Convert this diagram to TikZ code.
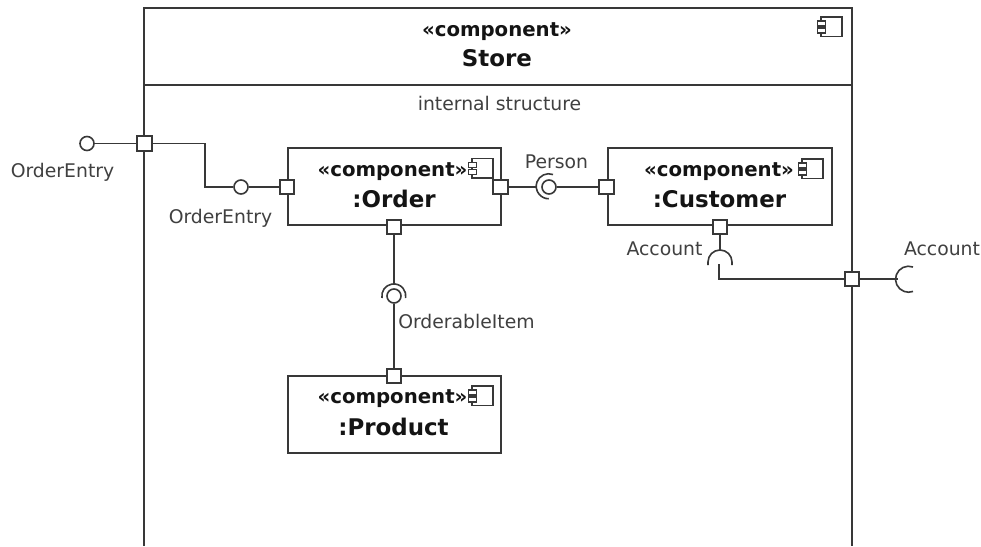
\documentclass[tikz,border=0pt]{standalone}
\usepackage{fontspec}
\setmainfont{DejaVu Sans}
\definecolor{ink}{gray}{0.22}
\definecolor{txt}{gray}{0.25}
\definecolor{boldtxt}{gray}{0.08}
\tikzset{
  x=0.75pt,y=-0.75pt,
  line/.style={draw=ink,line width=1.4pt,line join=miter},
  thin line/.style={draw=ink,line width=1.2pt},
  compbox/.style={draw=ink,line width=1.4pt,fill=white,minimum width=159.75pt,minimum height=57.75pt,inner sep=0pt},
  widebox/.style={compbox,minimum width=168pt},
  portbox/.style={draw=ink,line width=1.4pt,fill=white,minimum size=11pt,inner sep=0pt},
  ball/.style={circle,draw=ink,line width=1.2pt,fill=white,minimum size=10.5pt,inner sep=0pt},
  lbl/.style={text=txt,inner sep=0pt,font=\fontsize{14.1pt}{16pt}\selectfont},
  stereo/.style={text=boldtxt,inner sep=0pt,font=\fontsize{14.8pt}{17pt}\selectfont\bfseries},
  cname/.style={text=boldtxt,inner sep=0pt,font=\fontsize{17.2pt}{20pt}\selectfont\bfseries},
}
\newcommand{\compicon}[2]{%
  \draw[thin line,fill=white] (#1,#2) rectangle ++(21,19.5);
  \draw[thin line,fill=white] (#1-3.5,#2+4) rectangle ++(8,5);
  \draw[thin line,fill=white] (#1-3.5,#2+11) rectangle ++(8,5);
}
\begin{document}
\begin{tikzpicture}
\useasboundingbox[fill=white] (0,0) rectangle (981,546);
% Store
\coordinate (storeBL) at (144,546);
\coordinate (storeTL) at (144,8);
\coordinate (storeTR) at (852,8);
\coordinate (storeBR) at (852,546);
\coordinate (divL) at (144,85);
\coordinate (divR) at (852,85);
\draw[line] (storeBL) -- (storeTL) -- (storeTR) -- (storeBR);
\draw[line] (divL) -- (divR);
\compicon{821}{17}
\node[stereo] (storeStereo) at (497,32) {«component»};
\node[cname] (storeName) at (497,58) {Store};
\node[lbl] (internal) at (499.5,103) {internal structure};
% Components
\node[compbox] (order) at (394.5,186.5) {};
\node[widebox] (customer) at (720,186.5) {};
\node[compbox] (product) at (394.5,414.5) {};
\compicon{472}{158.5}
\compicon{802}{159}
\compicon{472}{386}
\node[stereo] (orderStereo) at (392.5,172) {«component»};
\node[cname] (orderName) at (394,199) {:Order};
\node[stereo] (customerStereo) at (719,172) {«component»};
\node[cname] (customerName) at (719.5,199) {:Customer};
\node[stereo] (productStereo) at (392.5,399) {«component»};
\node[cname] (productName) at (393.5,426.5) {:Product};
% Ports
\node[portbox] (pStoreL) at (144.5,143.5) {};
\node[portbox] (pStoreR) at (852,279) {};
\node[portbox] (pOrderL) at (287,187) {};
\node[portbox] (pOrderR) at (500.5,187) {};
\node[portbox] (pOrderB) at (394,227) {};
\node[portbox] (pCustL) at (606.5,187) {};
\node[portbox] (pCustB) at (720,227) {};
\node[portbox] (pProdT) at (394,376) {};
% Provided interfaces
\node[ball] (ballOuter) at (87,143.5) {};
\node[ball] (ballOrder) at (241,187) {};
\node[ball] (ballPerson) at (549,187) {};
\node[ball] (ballItem) at (394,296) {};
% Sockets
\coordinate (sockPerson) at (537,187);
\coordinate (sockItem) at (394,284);
\coordinate (sockAcc) at (720,250);
\coordinate (sockAccEnd) at (719,264);
\coordinate (sockOut) at (898,279);
\coordinate (bendA) at (205,143.5);
\coordinate (bendB) at (205,187);
\coordinate (bendC) at (719,279);
\draw[thin line] (553,174.5) arc[start angle=-70,end angle=-270,radius=12.5];
\draw[thin line] (382,298) arc[start angle=170,end angle=370,radius=12];
\draw[thin line] (708,265) -- (708,262) arc[start angle=180,end angle=360,radius=12] -- (732,265);
\draw[thin line] (913,267) arc[start angle=-70,end angle=-290,radius=13];
% Connectors
\draw[line] (ballOuter) -- (pStoreL);
\draw[line] (pStoreL) -- (bendA) -- (bendB) -- (ballOrder);
\draw[line] (ballOrder) -- (pOrderL);
\draw[line] (pOrderR) -- (sockPerson);
\draw[line] (ballPerson) -- (pCustL);
\draw[line] (pOrderB) -- (sockItem);
\draw[line] (ballItem) -- (pProdT);
\draw[line] (pCustB) -- (sockAcc);
\draw[line] (sockAccEnd) -- (bendC) -- (pStoreR);
\draw[line] (pStoreR) -- (sockOut);
% Labels
\node[lbl] (lOuter) at (62.5,172) {OrderEntry};
\node[lbl] (lInner) at (220.5,218) {OrderEntry};
\node[lbl] (lPerson) at (556.5,162) {Person};
\node[lbl] (lAccIn) at (664.5,249) {Account};
\node[lbl] (lAccOut) at (942,249) {Account};
\node[lbl] (lItem) at (466.5,321) {OrderableItem};
\end{tikzpicture}
\end{document}
